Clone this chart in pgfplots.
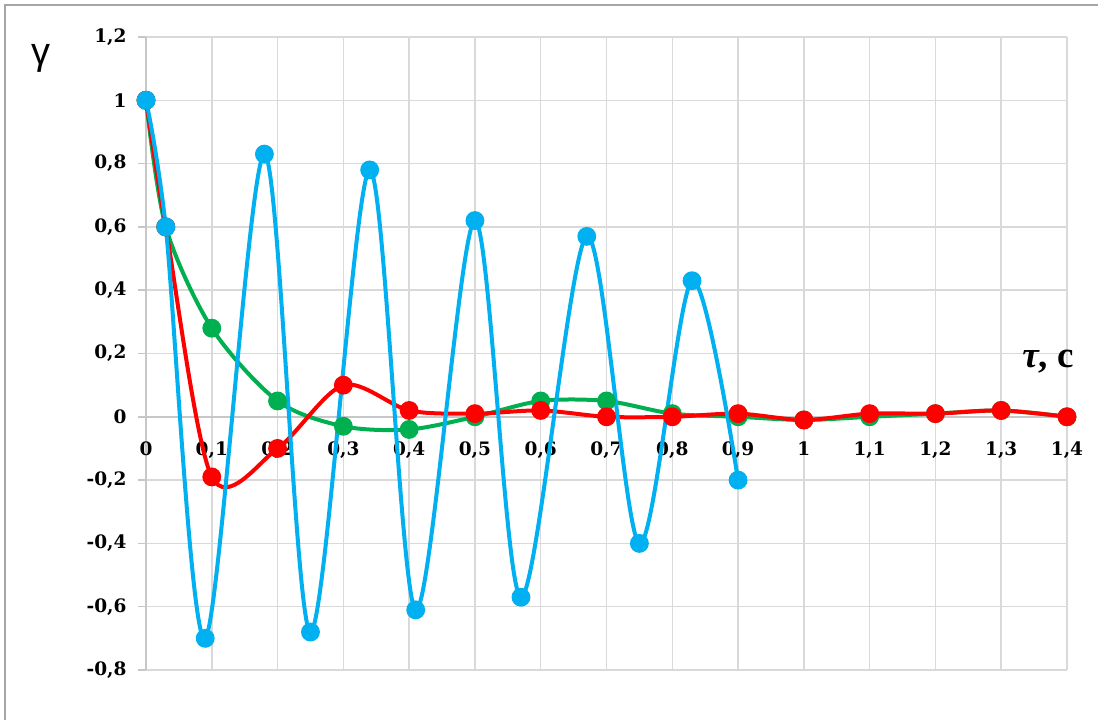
\documentclass[border=0pt]{standalone}
\usepackage{pgfplots}
\pgfplotsset{compat=1.18}
\usepackage{fontspec}
\setmainfont{Liberation Serif}
\newfontfamily\gfont{Liberation Sans}
\newfontfamily\tfont{DejaVu Serif}
\definecolor{xgreen}{RGB}{0,176,80}
\definecolor{xred}{RGB}{255,0,0}
\definecolor{xblue}{RGB}{0,176,240}
\definecolor{gridc}{RGB}{217,217,217}
\begin{document}
\begin{tikzpicture}
\useasboundingbox (0,0) rectangle (1098pt,720pt);
\fill[white] (0,0) rectangle (1098pt,720pt);
\draw[gray!70, line width=1.2pt] (5pt,0) -- (5pt,715pt) -- (1098pt,715pt);
\begin{axis}[
  at={(146pt,50pt)}, anchor=south west,
  scale only axis, width=921pt, height=633pt,
  xmin=0, xmax=1.4, ymin=-0.8, ymax=1.2,
  clip=false,
  axis x line=middle, axis y line=left,
  hide obscured x ticks=false,
  axis line style={-, gridc!80!gray, line width=1.5pt},
  grid=major, grid style={gridc, line width=1.5pt},
  xtick={0,0.1,...,1.4},
  xticklabels={0,{0,1},{0,2},{0,3},{0,4},{0,5},{0,6},{0,7},{0,8},{0,9},1,{1,1},{1,2},{1,3},{1,4}},
  ytick={-0.8,-0.6,...,1.2},
  yticklabels={{-0,8},{-0,6},{-0,4},{-0,2},0,{0,2},{0,4},{0,6},{0,8},1,{1,2}},
  x tick style={draw=none},
  y tick style={gridc!80!gray, line width=1.5pt},
  tick align=outside, major tick length=8pt,
  tick label style={font=\tfont\fontsize{18.5}{20}\selectfont\bfseries},
  xticklabel style={yshift=-13pt},
  yticklabel style={xshift=-8pt},
]
\addplot[xgreen, line width=4pt, smooth, tension=0.5, mark=*, mark options={xgreen, scale=3.7}] coordinates {
(0,1) (0.03,0.6) (0.1,0.28) (0.2,0.05) (0.3,-0.03) (0.4,-0.04) (0.5,0) (0.6,0.05) (0.7,0.05) (0.8,0.01) (0.9,0) (1.0,-0.01) (1.1,0) (1.2,0.01) (1.3,0.02) (1.4,0)
};
\addplot[xred, line width=4pt, smooth, tension=0.5, mark=*, mark options={xred, scale=3.7}] coordinates {
(0,1) (0.03,0.6) (0.1,-0.19) (0.2,-0.1) (0.3,0.1) (0.4,0.02) (0.5,0.01) (0.6,0.02) (0.7,0) (0.8,0) (0.9,0.01) (1.0,-0.01) (1.1,0.01) (1.2,0.01) (1.3,0.02) (1.4,0)
};
\addplot[xblue, line width=4pt, smooth, tension=0.5, mark=*, mark options={xblue, scale=3.7}] coordinates {
(0,1) (0.03,0.6) (0.09,-0.7) (0.18,0.83) (0.25,-0.68) (0.34,0.78) (0.41,-0.61) (0.5,0.62) (0.57,-0.57) (0.67,0.57) (0.75,-0.4) (0.83,0.43) (0.9,-0.2)
};
\end{axis}
\node at (41pt,662pt) {\gfont\fontsize{38}{40}\selectfont γ};
\node at (1048pt,358pt) {\fontsize{37}{39}\selectfont\bfseries\itshape τ\upshape, с};
\end{tikzpicture}
\end{document}
